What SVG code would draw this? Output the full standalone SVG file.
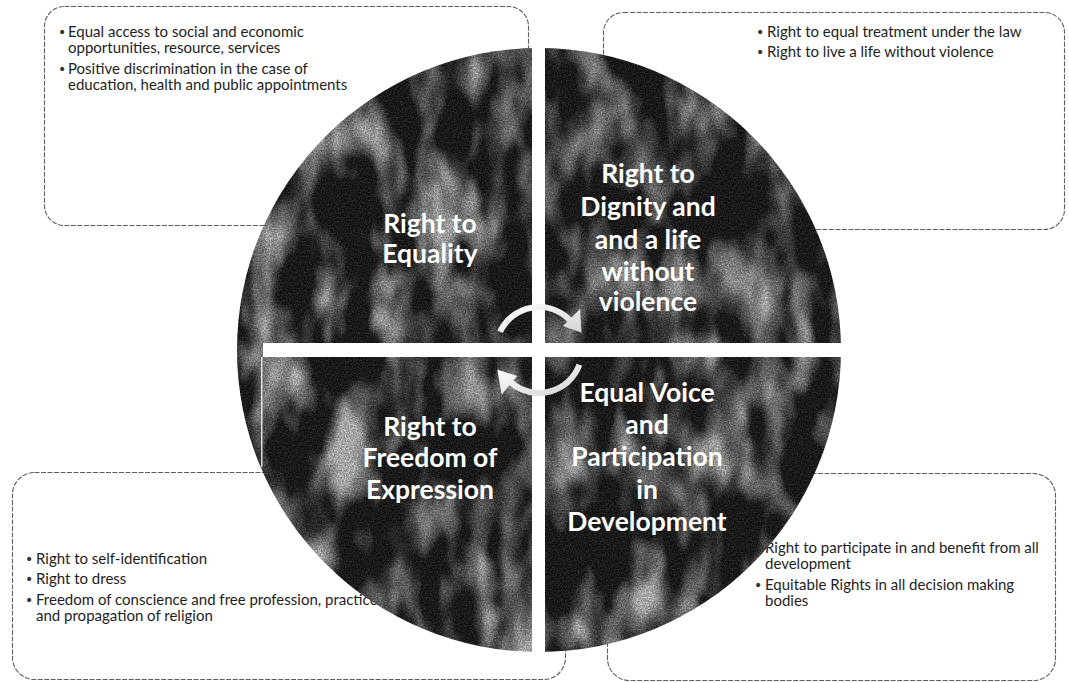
<svg xmlns="http://www.w3.org/2000/svg" width="1069" height="683" viewBox="0 0 1069 683">
<style>
.box{fill:#fff;stroke:#5e5e5e;stroke-width:1.1;stroke-dasharray:5 1.5}
.txt{font-family:Lato,"Liberation Sans",sans-serif;font-size:15px;fill:#1e1e1e}
.bul{font-family:"DejaVu Sans",sans-serif;font-size:14px;fill:#333}
.lbl{font-family:Lato,"Liberation Sans",sans-serif;font-size:26.5px;font-weight:bold;fill:#fff;text-anchor:middle}
.bar{fill:#fff}
.arr{fill:url(#arrGrad)}
</style>
<defs>
<filter id="tex" x="0" y="0" width="1" height="1" color-interpolation-filters="sRGB">
<feTurbulence type="fractalNoise" baseFrequency="0.024 0.012" numOctaves="3" seed="11" result="big"/>
<feColorMatrix in="big" type="matrix" values="1.6 1.6 1.6 0 -2.2  1.6 1.6 1.6 0 -2.2  1.6 1.6 1.6 0 -2.2  0 0 0 0 1" result="bigg"/>
<feTurbulence type="fractalNoise" baseFrequency="0.75" numOctaves="1" seed="4" result="fine"/>
<feColorMatrix in="fine" type="matrix" values="1.2 1.2 1.2 0 -1.45  1.2 1.2 1.2 0 -1.45  1.2 1.2 1.2 0 -1.45  0 0 0 0 1" result="fineg"/>
<feComposite in="bigg" in2="fineg" operator="arithmetic" k1="0.18" k2="0.36" k3="0.16" k4="0.02" result="mix"/>
<feColorMatrix in="mix" type="matrix" values="0.94 0 0 0 0  0 0.94 0 0 0  0 0 0.94 0 0  0 0 0 0 1" result="opaque"/>
<feComposite in="opaque" in2="SourceGraphic" operator="in"/>
</filter>
<linearGradient id="arrGrad" x1="0" y1="0" x2="1" y2="1">
<stop offset="0" stop-color="#ffffff"/>
<stop offset="1" stop-color="#d4d4d4"/>
</linearGradient>
</defs>

<g id="box-equality">
<rect class="box" x="44.5" y="6.5" width="484" height="219" rx="20"/>
<text class="bul" x="58" y="37">•</text><text class="txt" x="68" y="37">Equal access to social and economic</text>
<text class="txt" x="68" y="53">opportunities, resource, services</text>
<text class="bul" x="58" y="74">•</text><text class="txt" x="68" y="74">Positive discrimination in the case of</text>
<text class="txt" x="68" y="90">education, health and public appointments</text>
</g>

<g id="box-dignity">
<rect class="box" x="603.5" y="12.5" width="461" height="217" rx="20"/>
<text class="bul" x="756" y="37">•</text><text class="txt" x="767" y="37">Right to equal treatment under the law</text>
<text class="bul" x="756" y="57">•</text><text class="txt" x="767" y="57">Right to live a life without violence</text>
</g>

<g id="box-expression">
<rect class="box" x="12.5" y="472.5" width="553" height="207" rx="22"/>
<text class="bul" x="25" y="564">•</text><text class="txt" x="36" y="564">Right to self-identification</text>
<text class="bul" x="25" y="584">•</text><text class="txt" x="36" y="584">Right to dress</text>
<text class="bul" x="25" y="605">•</text><text class="txt" x="36" y="605">Freedom of conscience and free profession, practice</text>
<text class="txt" x="36" y="621">and propagation of religion</text>
</g>

<g id="box-participation">
<rect class="box" x="607.5" y="473.5" width="448" height="207" rx="22"/>
<text class="bul" x="754" y="553">•</text><text class="txt" x="765" y="553">Right to participate in and benefit from all</text>
<text class="txt" x="765" y="569">development</text>
<text class="bul" x="754" y="590">•</text><text class="txt" x="765" y="590">Equitable Rights in all decision making</text>
<text class="txt" x="765" y="606">bodies</text>
</g>

<g id="circle">
<circle cx="539" cy="350" r="302" fill="#000" filter="url(#tex)"/>
<rect class="bar" x="532" y="44" width="13" height="612"/>
<rect class="bar" x="263" y="343" width="582" height="14"/>
<rect x="261" y="357" width="1.5" height="110" fill="#fff" opacity="0.8"/>
</g>

<g id="connectors">
<path class="arr" d="M497.3 330.5 A46 46 0 0 1 571.5 317.5 L580 309 L581.6 332.8 L563 326 L567.3 321.7 A40 40 0 0 0 502.8 333.1 Z"/>
<path class="arr" d="M582.2 365.7 A46 46 0 0 1 509.4 385.2 L501.7 394.4 L497.3 369.4 L517.1 376 L513.3 380.6 A40 40 0 0 0 576.6 363.7 Z"/>
</g>

<g id="label-equality">
<text class="lbl" x="430" y="233">Right to</text>
<text class="lbl" x="430" y="263">Equality</text>
</g>
<g id="label-dignity">
<text class="lbl" x="648" y="183">Right to</text>
<text class="lbl" x="648" y="216">Dignity and</text>
<text class="lbl" x="648" y="249">and a life</text>
<text class="lbl" x="648" y="281">without</text>
<text class="lbl" x="648" y="311">violence</text>
</g>
<g id="label-expression">
<text class="lbl" x="430" y="436">Right to</text>
<text class="lbl" x="430" y="467">Freedom of</text>
<text class="lbl" x="430" y="499">Expression</text>
</g>
<g id="label-participation">
<text class="lbl" x="647" y="402">Equal Voice</text>
<text class="lbl" x="647" y="434">and</text>
<text class="lbl" x="647" y="466">Participation</text>
<text class="lbl" x="647" y="499">in</text>
<text class="lbl" x="647" y="531">Development</text>
</g>
</svg>
